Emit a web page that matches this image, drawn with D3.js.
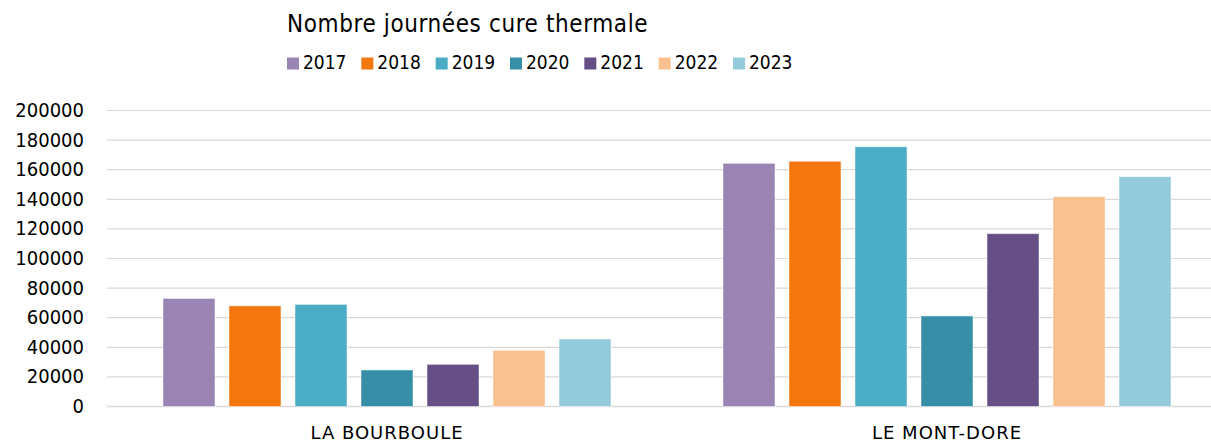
<!DOCTYPE html>
<html><head><meta charset="utf-8">
<script src="https://cdn.jsdelivr.net/npm/d3@7"></script>
<style>body{margin:0;background:#fff}svg{display:block}text{font-family:"DejaVu Sans Condensed","DejaVu Sans",sans-serif;fill:#000}</style>
</head><body><svg id="c" width="1211" height="444"></svg>
<script>
const categories = ["LA BOURBOULE", "LE MONT-DORE"];
const years = ["2017", "2018", "2019", "2020", "2021", "2022", "2023"];
const v2017 = [73000, 164300];
const v2018 = [68000, 165700];
const v2019 = [69000, 175500];
const v2020 = [24700, 61200];
const v2021 = [28500, 116800];
const v2022 = [38000, 141800];
const v2023 = [45600, 155300];
const yTicks = [0, 20000, 40000, 60000, 80000, 100000, 120000, 140000, 160000, 180000, 200000];
const colors = ["#9A84B4", "#F3760E", "#4BACC6", "#378EA7", "#664F84", "#F9C190", "#93CBDC"];
const title = "Nombre journées cure thermale";

const series = [v2017, v2018, v2019, v2020, v2021, v2022, v2023];
const svg = d3.select("#c");
const x0 = d3.scaleBand().domain(categories).range([107, 1227]);
const x1 = d3.scaleBand().domain(years).range([0, x0.bandwidth()]).paddingInner(0.212).paddingOuter(0.848);
const y = d3.scaleLinear().domain([0, 200000]).range([406.5, 110.5]);
const color = d3.scaleOrdinal().domain(years).range(colors);

// y axis labels
const yAxis = d3.axisLeft(y).tickValues(yTicks).tickSize(0).tickPadding(0).tickFormat(d3.format("d"));
const ga = svg.append("g").attr("transform", "translate(84,0)").call(yAxis);
ga.select(".domain").remove();
ga.selectAll("text").style("font-size", "20px").attr("dy", "0.3em").attr("x", 0);
// grid
svg.append("g").selectAll("line").data(yTicks).join("line")
  .attr("x1", 107).attr("x2", 1211)
  .attr("y1", d => y(d)).attr("y2", d => y(d))
  .attr("stroke", "#d9d9d9").attr("stroke-width", d => d === 0 ? 1.5 : 1.2);

// bars
const g = svg.append("g");
categories.forEach((c, ci) => {
  g.selectAll(null).data(years).join("rect")
    .attr("x", yr => x0(c) + x1(yr))
    .attr("width", x1.bandwidth())
    .attr("y", (yr, i) => y(series[i][ci]))
    .attr("height", (yr, i) => y(0) - y(series[i][ci]))
    .attr("fill", yr => color(yr))
    .attr("stroke", "rgba(255,255,255,0.5)").attr("stroke-width", 1);
});

// category axis labels
const xAxis = d3.axisBottom(x0).tickSize(0).tickPadding(0);
const gx = svg.append("g").attr("transform", "translate(0,439)").call(xAxis);
gx.select(".domain").remove();
gx.selectAll("text").style("font-family", "'DejaVu Sans',sans-serif").style("font-size", "18px")
  .style("letter-spacing", "1px").attr("dy", 0).attr("y", 0);

// title
svg.append("text").attr("x", 287).attr("y", 32).style("font-size", "24px")
  .style("letter-spacing", "0.6px").text(title);

// legend
const lx = d3.scaleLinear().domain([0, 6]).range([287, 733]);
const lg = svg.append("g").selectAll("g").data(years).join("g")
  .attr("transform", (d, i) => `translate(${lx(i)},0)`);
lg.append("rect").attr("x", 0).attr("y", 57.5).attr("width", 12).attr("height", 12).attr("fill", d => color(d));
lg.append("text").attr("x", 16).attr("y", 69).style("font-size", "19px").text(d => d);
</script></body></html>
